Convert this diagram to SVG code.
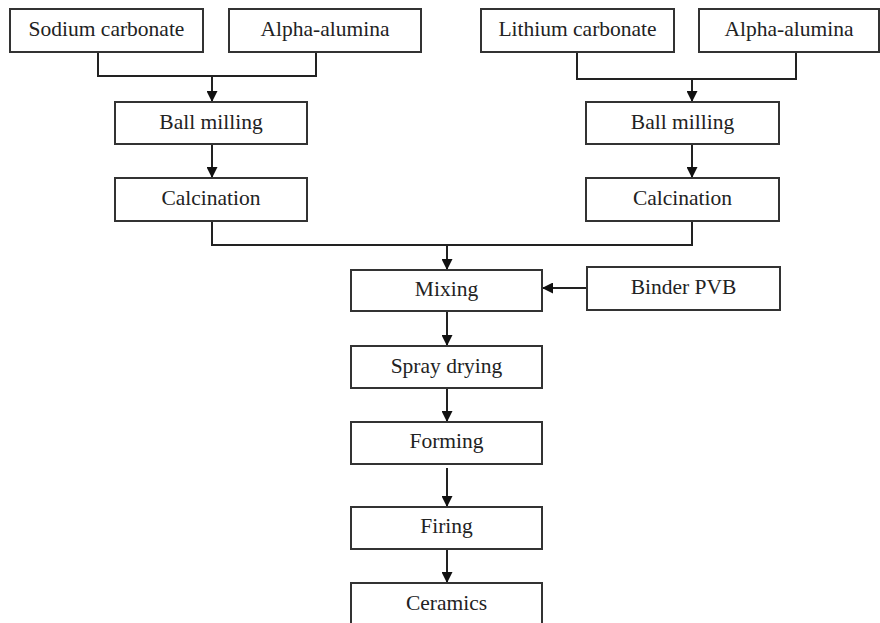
<svg xmlns="http://www.w3.org/2000/svg" width="880" height="623" viewBox="0 0 880 623">
<style>
.box{fill:#fff;stroke:#333;stroke-width:2}
.lbl{font-family:"Liberation Serif","Times New Roman",serif;font-size:21.5px;fill:#222;text-anchor:middle}
.ln{fill:none;stroke:#222;stroke-width:2}
</style>
<defs>
<marker id="ah" viewBox="0 0 10 10" refX="10" refY="5" markerWidth="11" markerHeight="11" markerUnits="userSpaceOnUse" orient="auto">
<path d="M0,0 L10,5 L0,10 Z" fill="#111"/>
</marker>
</defs>
<rect width="880" height="623" fill="#fff"/>
<g id="connectors">
<path class="ln" d="M98,52 V76 H316 V52"/>
<path class="ln" d="M212,76 V102" marker-end="url(#ah)"/>
<path class="ln" d="M212,144 V178" marker-end="url(#ah)"/>
<path class="ln" d="M577,52 V79 H796 V52"/>
<path class="ln" d="M692,79 V102" marker-end="url(#ah)"/>
<path class="ln" d="M692,144 V178" marker-end="url(#ah)"/>
<path class="ln" d="M212,221 V245 H692 V221"/>
<path class="ln" d="M447,245 V270" marker-end="url(#ah)"/>
<path class="ln" d="M587,288 H542" marker-end="url(#ah)"/>
<path class="ln" d="M447,311 V346" marker-end="url(#ah)"/>
<path class="ln" d="M447,388 V422" marker-end="url(#ah)"/>
<path class="ln" d="M447,468 V507" marker-end="url(#ah)"/>
<path class="ln" d="M447,549 V583" marker-end="url(#ah)"/>
</g>
<g id="sodium"><rect class="box" x="10" y="9" width="193" height="43"/><text class="lbl" x="106.5" y="36">Sodium carbonate</text></g>
<g id="alumina1"><rect class="box" x="229" y="9" width="192" height="43"/><text class="lbl" x="325" y="36">Alpha-alumina</text></g>
<g id="lithium"><rect class="box" x="481" y="9" width="193" height="43"/><text class="lbl" x="577.5" y="36">Lithium carbonate</text></g>
<g id="alumina2"><rect class="box" x="699" y="9" width="180" height="43"/><text class="lbl" x="789" y="36">Alpha-alumina</text></g>
<g id="ball1"><rect class="box" x="115" y="102" width="192" height="42"/><text class="lbl" x="211" y="129">Ball milling</text></g>
<g id="ball2"><rect class="box" x="586" y="102" width="193" height="42"/><text class="lbl" x="682.5" y="129">Ball milling</text></g>
<g id="calc1"><rect class="box" x="115" y="178" width="192" height="43"/><text class="lbl" x="211" y="205">Calcination</text></g>
<g id="calc2"><rect class="box" x="586" y="178" width="193" height="43"/><text class="lbl" x="682.5" y="205">Calcination</text></g>
<g id="mixing"><rect class="box" x="351" y="270" width="191" height="41"/><text class="lbl" x="446.5" y="296">Mixing</text></g>
<g id="binder"><rect class="box" x="587" y="267" width="193" height="43"/><text class="lbl" x="683.5" y="294">Binder PVB</text></g>
<g id="spray"><rect class="box" x="351" y="346" width="191" height="42"/><text class="lbl" x="446.5" y="373">Spray drying</text></g>
<g id="forming"><rect class="box" x="351" y="422" width="191" height="42"/><text class="lbl" x="446.5" y="448">Forming</text></g>
<g id="firing"><rect class="box" x="351" y="507" width="191" height="42"/><text class="lbl" x="446.5" y="533">Firing</text></g>
<g id="ceramics"><rect class="box" x="351" y="583" width="191" height="50"/><text class="lbl" x="446.5" y="610">Ceramics</text></g>
</svg>
